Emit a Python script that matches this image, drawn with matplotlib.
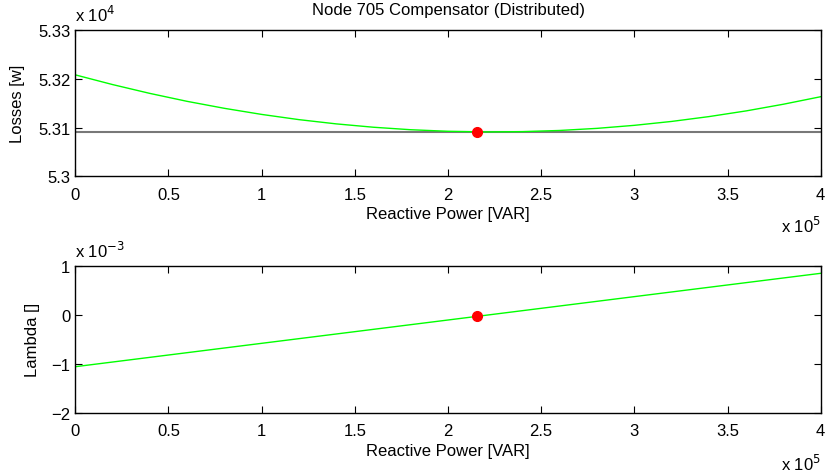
import matplotlib
matplotlib.use("Agg")
import matplotlib.pyplot as plt
from matplotlib.ticker import FuncFormatter, FixedLocator

plt.rcParams['font.family'] = ['Liberation Sans', 'DejaVu Sans']

# Reactive power sample points [VAR]
q_loss = [0, 20000, 40000, 60000, 80000, 100000, 120000, 140000, 160000, 180000,
          200000, 220000, 240000, 260000, 280000, 300000, 320000, 340000, 360000,
          380000, 400000]
# Losses [W]
losses = [53208, 53188.1, 53170.0, 53153.7, 53139.4, 53126.9, 53116.2, 53107.5,
          53100.6, 53095.5, 53092.3, 53091.0, 53091.6, 53094.0, 53098.3, 53104.5,
          53112.5, 53122.4, 53134.1, 53147.8, 53163.2]
loss_min = 53091.0

q_lam = [0, 100000, 200000, 300000, 400000]
lam = [-1.057e-3, -0.581e-3, -0.106e-3, 0.370e-3, 0.845e-3]

opt_q = 215800
opt_loss = 53091.0
opt_lam = -0.025e-3

xticks = [0, 50000, 100000, 150000, 200000, 250000, 300000, 350000, 400000]
loss_ticks = [53000, 53100, 53200, 53300]
lam_ticks = [-2e-3, -1e-3, 0, 1e-3]

W, H = 825, 477
fig = plt.figure(figsize=(W/100, H/100), dpi=100)
ax1 = fig.add_axes([75.3/W, 1-177.3/H, 745.4/W, 146.3/H])
ax2 = fig.add_axes([75.3/W, 1-414/H, 745.4/W, 147.3/H])

fs = 12

def xfmt(v, p):
    return f"{v/1e5:g}"

ax1.plot([0, 400000], [loss_min, loss_min], color=(0.47, 0.47, 0.47), lw=1.5)
ax1.plot(q_loss, losses, color=(0, 1, 0), lw=1)
ax1.plot([opt_q], [opt_loss], 'o', color='red', ms=7, mec='red')
ax1.set_xlim(0, 400000)
ax1.set_ylim(53000, 53300)
ax1.yaxis.set_major_locator(FixedLocator(loss_ticks))
ax1.yaxis.set_major_formatter(FuncFormatter(lambda v, p: f"{v/1e4:g}"))
ax1.set_ylabel("Losses [w]", fontsize=fs)
ax1.yaxis.set_label_coords((25 - 75.3)/745.4, 0.5)
fig.text(0.5*(75.3+820.7)/W, 1-14.5/H, "Node 705 Compensator (Distributed)",
         fontsize=fs, ha='center', va='baseline')
ax1.text(0, 1 + (31-21.7)/146.3, r"x 10$^{4}$", transform=ax1.transAxes,
         fontsize=fs, ha='left', va='baseline')

ax2.plot(q_lam, lam, color=(0, 1, 0), lw=1)
ax2.plot([opt_q], [opt_lam], 'o', color='red', ms=7, mec='red')
ax2.set_xlim(0, 400000)
ax2.set_ylim(-2e-3, 1e-3)
ax2.yaxis.set_major_locator(FixedLocator(lam_ticks))
ax2.yaxis.set_major_formatter(FuncFormatter(lambda v, p: f"{v*1e3:g}".replace('-', '\u2212')))
ax2.set_ylabel("Lambda []", fontsize=fs)
ax2.yaxis.set_label_coords((40 - 75.3)/745.4, 0.5)
ax2.text(0, 1 + (266.7-258)/147.3, r"x 10$^{-3}$", transform=ax2.transAxes,
         fontsize=fs, ha='left', va='baseline')

for ax, hgt, base in ((ax1, 146.3, 233 - 177.3), (ax2, 147.3, 471 - 414)):
    ax.xaxis.set_major_locator(FixedLocator(xticks))
    ax.xaxis.set_major_formatter(FuncFormatter(xfmt))
    ax.set_xlabel("Reactive Power [VAR]", fontsize=fs, labelpad=3)
    ax.tick_params(direction='in', length=5, width=0.8, top=True, right=True,
                   labelsize=fs)
    ax.tick_params(axis='x', pad=7.5)
    ax.tick_params(axis='y', pad=3.5)
    for s in ax.spines.values():
        s.set_linewidth(1.0)
    ax.text(1.0, -base/hgt, r"x 10$^{5}$", transform=ax.transAxes, fontsize=fs,
            ha='right', va='baseline')

fig.savefig("out.png", dpi=100)
